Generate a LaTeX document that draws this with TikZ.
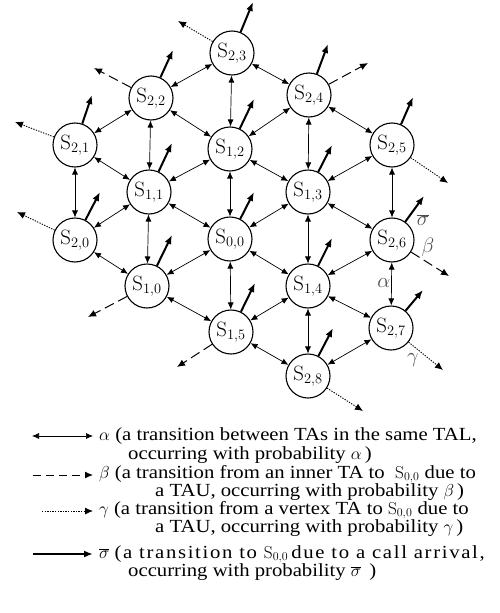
\documentclass[tikz,border=0pt]{standalone}
\usepackage[no-math]{fontspec}
\setmainfont{Liberation Serif}[FakeStretch=1.12]
\usetikzlibrary{arrows.meta}
\begin{document}
\begin{tikzpicture}[x=1pt,y=-1pt,
  st/.style={circle,draw,line width=1.1pt,minimum size=44pt,inner sep=0pt,font=\fontsize{22}{26}\selectfont},
  al/.style={{Latex[length=7pt,width=6pt]}-{Latex[length=7pt,width=6pt]},line width=0.7pt},
  sg/.style={-{Latex[length=9pt,width=7pt]},line width=2pt},
  bt/.style={-{Latex[length=8pt,width=7pt]},line width=1pt,dash pattern=on 10pt off 5pt},
  gm/.style={-{Latex[length=8pt,width=7pt]},line width=0.9pt,dash pattern=on 1.3pt off 1.3pt},
  lg/.style={anchor=base west,inner sep=0pt,font=\fontsize{18.5}{20}\selectfont},
  lb/.style={font=\fontsize{21}{24}\selectfont,text=black!70,inner sep=0pt}
]
\useasboundingbox (0,0) rectangle (500,613);
% states
\node[st] (s23) at (232,53) {$\mathrm{S}_{2,3}$};
\node[st] (s22) at (151,98) {$\mathrm{S}_{2,2}$};
\node[st] (s24) at (309,95) {$\mathrm{S}_{2,4}$};
\node[st] (s21) at (75,145) {$\mathrm{S}_{2,1}$};
\node[st] (s12) at (230,149) {$\mathrm{S}_{1,2}$};
\node[st] (s25) at (392,145) {$\mathrm{S}_{2,5}$};
\node[st] (s11) at (149,192) {$\mathrm{S}_{1,1}$};
\node[st] (s13) at (308,192) {$\mathrm{S}_{1,3}$};
\node[st] (s20) at (75,240) {$\mathrm{S}_{2,0}$};
\node[st] (s00) at (230,239) {$\mathrm{S}_{0,0}$};
\node[st] (s26) at (392,240) {$\mathrm{S}_{2,6}$};
\node[st] (s10) at (147,286) {$\mathrm{S}_{1,0}$};
\node[st] (s14) at (308,286) {$\mathrm{S}_{1,4}$};
\node[st] (s15) at (231,332) {$\mathrm{S}_{1,5}$};
\node[st] (s27) at (391,328) {$\mathrm{S}_{2,7}$};
\node[st] (s28) at (308,376) {$\mathrm{S}_{2,8}$};
% alpha edges
\foreach \a/\b in {s23/s12,s12/s00,s00/s15,s22/s11,s11/s10,s21/s20,s24/s13,s13/s14,s14/s28,s25/s26,s26/s27,
  s22/s23,s23/s24,s21/s22,s22/s12,s24/s12,s24/s25,s21/s11,s11/s12,s12/s13,s13/s25,
  s20/s11,s11/s00,s00/s13,s13/s26,s20/s10,s10/s00,s00/s14,s14/s26,s10/s15,s15/s14,s14/s27,s15/s28,s28/s27}
  \draw[al] (\a) -- (\b);
% sigma-bar ends
\coordinate (t23) at (253,2);
\coordinate (t22) at (173,50);
\coordinate (t24) at (328,44);
\coordinate (t21) at (92,95);
\coordinate (t12) at (254,99);
\coordinate (t25) at (413,97);
\coordinate (t11) at (172,143);
\coordinate (t13) at (332,145);
\coordinate (t20) at (100,192);
\coordinate (t00) at (254,192);
\coordinate (t26) at (424,196);
\coordinate (t10) at (172,235);
\coordinate (t14) at (332,238);
\coordinate (t15) at (255,283);
\coordinate (t27) at (423,290);
\coordinate (t28) at (333,328);
\foreach \n in {23,22,24,21,12,25,11,13,20,00,26,10,14,15,27,28}
  \draw[sg] (s\n) -- (t\n);
% gamma ends
\coordinate (g23) at (178,21);
\coordinate (g21) at (15,122);
\coordinate (g20) at (17,212);
\coordinate (g25) at (448,183);
\coordinate (g27) at (443,370);
\coordinate (g28) at (363,411);
\foreach \n in {23,21,20,25,27,28}
  \draw[gm] (s\n) -- (g\n);
% beta ends
\coordinate (b22) at (94,68);
\coordinate (b24) at (368,63);
\coordinate (b26) at (449,276);
\coordinate (b10) at (88,317);
\coordinate (b15) at (177,367);
\foreach \n in {22,24,26,10,15}
  \draw[bt] (s\n) -- (b\n);
% labels
\node[lb] (lsig) at (423,220) {$\overline{\sigma}$};
\node[lb] (lbet) at (428,247) {$\beta$};
\node[lb] (lalp) at (384,283) {$\alpha$};
\node[lb] (lgam) at (413,360) {$\gamma$};
% legend
\coordinate (la1) at (32,436); \coordinate (la2) at (93,436);
\coordinate (lb1) at (33,475); \coordinate (lb2) at (93,475);
\coordinate (lc1) at (42,511); \coordinate (lc2) at (93,511);
\coordinate (ld1) at (33,554); \coordinate (ld2) at (93,554);
\draw[al] (la1) -- (la2);
\draw[bt,dash pattern=on 8pt off 5pt] (lb1) -- (lb2);
\draw[gm] (lc1) -- (lc2);
\draw[sg] (ld1) -- (ld2);
\node[lg] (t1) at (99,440) {$\alpha$ (a transition between TAs in the same TAL,};
\node[lg] (t2) at (128,459) {occurring with probability $\alpha$\,)};
\node[lg] (t3) at (99,478) {$\beta$ (a transition from an inner TA to \ $\mathrm{S}_{0,0}$ due to};
\node[lg] (t4) at (155,496) {a TAU, occurring with probability $\beta$\,)};
\node[lg] (t5) at (99,514) {$\gamma$ (a transition from a vertex TA to $\mathrm{S}_{0,0}$ due to};
\node[lg] (t6) at (155,532) {a TAU, occurring with probability $\gamma$\,)};
\node[lg] (t7) at (99,558) {$\overline{\sigma}$ {\addfontfeatures{LetterSpace=9}(a transition to $\mathrm{S}_{0,0}$\,due to a call arrival,}};
\node[lg] (t8) at (128,576) {occurring with probability $\overline{\sigma}$\ \,)};
\end{tikzpicture}
\end{document}
